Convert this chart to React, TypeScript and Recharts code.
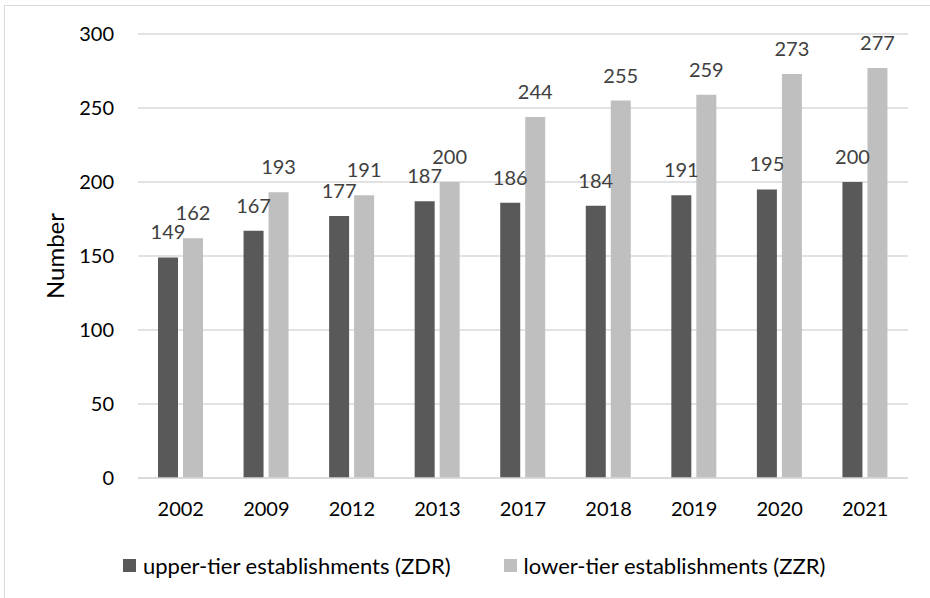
import { BarChart, Bar, XAxis, YAxis, CartesianGrid, LabelList, Legend } from "recharts";

const years = ["2002", "2009", "2012", "2013", "2017", "2018", "2019", "2020", "2021"];
const upperTier = [149, 167, 177, 187, 186, 184, 191, 195, 200];
const lowerTier = [162, 193, 191, 200, 244, 255, 259, 273, 277];
const yTicks = [0, 50, 100, 150, 200, 250, 300];

const seriesInfo = [
  { key: "upper", name: "upper-tier establishments (ZDR)", color: "#595959" },
  { key: "lower", name: "lower-tier establishments (ZZR)", color: "#BFBFBF" },
];

const data = years.map((year, i) => ({
  year,
  upper: upperTier[i],
  lower: lowerTier[i],
}));

const font = "Lato, 'Open Sans', sans-serif";

function ChartLegend() {
  return (
    <div
      style={{
        display: "flex",
        alignItems: "center",
        height: 24,
        paddingLeft: 123,
        fontFamily: font,
        fontSize: 22,
        color: "#000",
      }}
    >
      {seriesInfo.map((s) => (
        <div key={s.key} style={{ display: "flex", alignItems: "center", marginRight: 53 }}>
          <span style={{ width: 13, height: 13, background: s.color, display: "inline-block" }} />
          <span style={{ marginLeft: 7, whiteSpace: "nowrap" }}>{s.name}</span>
        </div>
      ))}
    </div>
  );
}

export default function App() {
  return (
    <div style={{ position: "absolute", left: 0, top: 0, width: 930, height: 598, background: "#fff", overflow: "hidden" }}>
      <div
        style={{
          position: "absolute",
          left: 4,
          top: 5,
          width: 940,
          height: 610,
          borderLeft: "1px solid #D9D9D9",
          borderTop: "1px solid #D9D9D9",
        }}
      />
      <BarChart
        width={930}
        height={598}
        data={data}
        margin={{ top: 34, right: 22, bottom: 21, left: 0 }}
        barSize={20}
        barGap={5}
      >
        <CartesianGrid vertical={false} stroke="#D9D9D9" strokeWidth={1.5} />
        <XAxis
          dataKey="year"
          height={75}
          axisLine={{ stroke: "#D9D9D9", strokeWidth: 1.5 }}
          tickLine={false}
          tickSize={0}
          tickMargin={24}
          tick={{ fill: "#000", fontSize: 20, fontFamily: font }}
        />
        <YAxis
          width={138}
          domain={[0, 300]}
          ticks={yTicks}
          axisLine={false}
          tickLine={false}
          tickSize={0}
          tickMargin={24}
          tick={{ fill: "#000", fontSize: 20, fontFamily: font }}
          label={{
            value: "Number",
            angle: -90,
            position: "insideLeft",
            offset: 55,
            style: { textAnchor: "middle", fill: "#000", fontSize: 24, fontFamily: font },
          }}
        />
        <Legend verticalAlign="bottom" wrapperStyle={{ left: 0, width: 930 }} content={() => <ChartLegend />} />
        {seriesInfo.map((s) => (
          <Bar key={s.key} dataKey={s.key} name={s.name} fill={s.color} isAnimationActive={false}>
            <LabelList
              dataKey={s.key}
              position="top"
              offset={18}
              style={{ fill: "#404040", fontSize: 20, fontFamily: font }}
            />
          </Bar>
        ))}
      </BarChart>
    </div>
  );
}
